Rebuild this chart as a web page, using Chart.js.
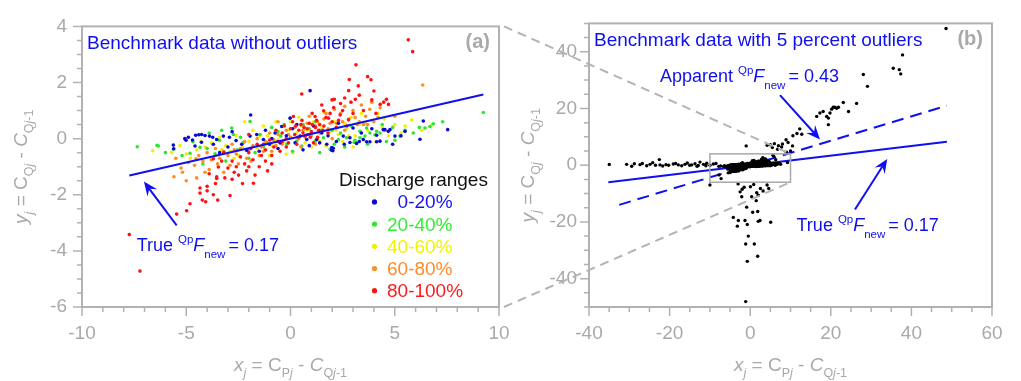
<!DOCTYPE html>
<html>
<head>
<meta charset="utf-8">
<script src="https://cdn.jsdelivr.net/npm/chart.js"></script>
<style>
  html, body { margin: 0; padding: 0; background: #fff; }
  #wrap { position: relative; width: 1021px; height: 381px; overflow: hidden; }
  canvas { position: absolute; top: 0; }
  #chartA { left: 0; }
  #chartB { left: 510px; }
  #overlay { left: 0; pointer-events: none; }
</style>
</head>
<body>
<div id="wrap">
  <canvas id="chartA" width="530" height="381"></canvas>
  <canvas id="chartB" width="511" height="381"></canvas>
  <canvas id="overlay" width="1021" height="381"></canvas>
</div>
<script>
// benchmark residuals, one array per discharge range: [x, y]
const dischargeRanges = ['0-20%', '20-40%', '40-60%', '60-80%', '80-100%'];

const range0to20 = [
  [-5.62,-0.23],[-5.6,-0.36],[-5.07,0.0],[-5.01,-0.06],[-4.58,-0.26],[-4.55,0.12],[-4.4,0.14],[-4.26,0.15],
  [-4.1,0.11],[-3.89,0.09],[-3.73,0.05],[-4.27,-0.13],[-3.54,-0.03],[-3.22,0.09],[-2.93,0.05],[-2.61,-0.07],
  [-2.34,-0.2],[-1.91,0.84],[-1.94,0.09],[-1.62,0.15],[-1.3,-0.03],[-1.01,-0.2],[-0.74,0.2],[-0.42,0.43],
  [-0.02,0.73],[0.22,-0.15],[0.46,0.09],[0.78,-0.03],[0.94,1.71],[1.26,-0.03],[1.5,0.2],[1.74,-0.2],
  [1.98,-0.32],[2.03,-0.43],[2.53,0.09],[2.85,-0.14],[3.17,-0.17],[3.49,-0.03],[3.81,-0.11],[4.13,0.12],
  [4.45,0.32],[4.69,0.26],[5.01,0.09],[4.29,-0.09],[4.53,0.32],[4.77,0.32],[5.49,0.26],[6.21,-0.02],
  [6.37,0.63],[7.54,0.32],[3.65,-0.11],[4.13,-0.11],[3.3,-0.1],[2.58,-0.2],[2.05,-0.34],[1.97,-0.41],
  [2.85,0.03],[-2.1,-0.42],[-3.0,-0.3],[0.1,0.35],[1.1,0.45],[-0.6,-0.35],[3.0,0.38],[-4.9,0.05],
  [-3.4,-0.5],[-1.5,-0.45],[0.6,-0.4],[2.3,0.55],[-0.2,0.1],[1.4,-0.15],
  [-3.7,-0.2],[-2.8,0.25],[-1.2,0.3],[-0.9,0.0],[0.3,0.5],[0.9,-0.25],[1.8,0.1],[2.2,-0.1],
  [3.4,0.2],[3.9,0.35],[4.9,-0.2],[5.3,0.1],[-4.7,-0.05],[-0.5,-0.15],[1.0,0.2]
];
const range20to40 = [
  [-7.35,-0.29],[-6.4,-0.24],[-5.62,-0.38],[-6.34,-0.26],[-4.68,-0.11],[-4.82,-0.52],[-4.34,-0.31],[-3.62,-0.54],
  [-3.41,-0.06],[-2.82,0.38],[-2.74,0.15],[-2.55,-0.4],[-2.26,-0.14],[-1.94,0.61],[-1.46,0.15],[-1.14,-0.14],
  [-0.82,-0.03],[-0.47,0.09],[-0.18,-0.2],[0.3,-0.09],[0.54,-0.26],[0.78,0.15],[1.18,-0.09],[1.58,0.03],
  [1.9,-0.38],[2.3,-0.03],[2.69,0.03],[3.05,-0.14],[3.33,0.26],[3.65,0.38],[4.13,0.26],[4.29,0.2],
  [4.05,0.14],[3.81,0.2],[3.57,0.09],[3.33,0.03],[3.09,-0.06],[5.25,0.09],[5.01,-0.06],[5.89,0.2],
  [6.18,0.4],[6.45,0.38],[6.69,0.43],[6.85,0.53],[9.25,0.93],[-3.9,0.2],[-1.7,-0.5],[-0.9,0.4],
  [0.9,0.35],[2.0,0.3],[2.6,-0.3],[-5.2,-0.6],[4.6,-0.1],[1.4,-0.5],[-0.3,0.5],[-3.1,-0.8],
  [-2.0,-0.7],[0.1,-0.45],[1.2,0.6],[2.4,0.2],[4.9,0.4],[-4.2,-0.9],
  [-6.0,-0.5],[-4.0,-0.35],[-3.3,0.3],[-2.4,0.05],[-1.3,-0.3],[-0.6,0.25],[0.0,0.05],[0.6,0.5],
  [1.4,0.3],[2.1,-0.2],[2.9,0.45],[3.7,-0.2],[4.4,0.5],[5.5,0.3],[7.3,0.6]
];
const range40to60 = [
  [-6.61,-0.43],[-5.0,-0.55],[-5.3,-0.25],[-4.5,-0.4],[-4.1,-0.3],[-3.8,-0.15],[-3.4,0.05],[-3.1,-0.25],
  [-2.9,-0.45],[-2.6,0.1],[-2.3,-0.3],[-2.0,-0.1],[-1.8,0.3],[-1.6,-0.35],[-1.3,0.45],[-1.1,0.1],
  [-0.9,-0.25],[-0.7,0.6],[-0.5,0.1],[-0.3,-0.1],[-0.1,0.3],[0.1,-0.5],[0.3,0.2],[0.5,0.45],
  [0.7,-0.15],[0.9,0.15],[1.1,0.6],[1.3,0.0],[1.5,0.4],[1.7,-0.25],[1.9,0.25],[2.1,0.6],
  [2.3,0.15],[2.5,-0.1],[2.7,0.35],[2.9,0.75],[3.1,0.1],[3.3,0.5],[3.5,-0.05],[3.7,0.3],
  [3.9,0.65],[4.1,-0.1],[4.4,0.4],[4.7,0.1],[5.0,0.5],[5.3,0.2],[5.81,0.67],[6.3,0.3],
  [-4.8,-0.7],[-2.2,0.6],[-0.2,-0.55],[1.0,-0.3],[2.0,-0.35],[3.4,0.9],[4.2,0.9],[-3.6,-0.6],
  [-1.0,-0.6],[0.4,0.75],[1.6,0.95],[2.6,0.55],[-2.7,-0.7],[3.0,-0.3],
  [-5.7,-0.5],[-4.3,-0.1],[-3.3,-0.4],[-2.5,-0.6],[-1.5,0.1],[-0.6,-0.05],[0.0,0.6],[0.8,0.3],
  [1.4,-0.1],[2.2,0.3],[2.8,0.1],[3.6,0.55],[4.5,0.7],[5.5,0.45],[6.8,0.5]
];
const range60to80 = [
  [-5.59,-1.36],[-5.18,-1.2],[-5.25,-1.05],[-4.9,-0.85],[-4.6,-0.95],[-4.4,-0.6],[-4.2,-0.8],[-4.0,-0.5],
  [-3.8,-0.75],[-3.6,-0.35],[-3.4,-0.7],[-3.2,-0.45],[-3.0,-0.6],[-2.8,-0.2],[-2.6,-0.55],[-2.4,-0.35],
  [-2.2,-0.1],[-2.0,-0.4],[-1.8,-0.25],[-1.6,0.0],[-1.4,-0.3],[-1.2,-0.1],[-1.0,0.2],[-0.8,-0.05],
  [-0.6,0.15],[-0.4,-0.2],[-0.2,0.3],[0.0,0.05],[0.2,0.4],[0.4,0.0],[0.6,0.3],[0.8,0.55],
  [1.0,0.1],[1.2,0.45],[1.4,0.2],[1.6,0.7],[1.8,0.35],[2.0,0.0],[2.2,0.55],[2.4,0.9],
  [2.6,0.3],[2.8,0.7],[3.0,1.0],[3.2,0.5],[3.4,1.2],[3.6,0.8],[3.8,1.05],[4.0,0.6],
  [4.2,0.75],[3.3,0.6],[3.7,0.5],[1.7,0.9],[2.1,1.05],[6.34,1.91],[-4.5,-1.4],[-3.9,-1.1],
  [-2.5,-0.9],[-1.5,-0.6],[0.5,-0.3],[-5.5,-0.7],[4.5,0.3],[5.0,0.8],[-0.6,0.6],[1.2,-0.2],
  [-3.2,-1.2],[-4.53,-0.72],[-2.9,-0.95],[-1.9,-0.8],[-0.9,-0.45],[0.9,0.8],[2.6,1.15],[3.9,1.3],
  [-5.0,-1.5],[-4.1,-1.2],[-3.5,-0.9],[-2.7,-0.4],[-2.1,-0.7],[-1.3,-0.45],[-0.7,-0.25],[-0.1,0.15],
  [0.7,0.05],[1.3,0.6],[1.9,0.55],[2.5,0.6],[3.1,0.75],[3.5,0.5],[4.3,1.1]
];
const range80to100 = [
  [-7.73,-3.42],[-7.22,-4.72],[-5.46,-2.69],[-4.98,-2.57],[-4.82,-2.32],[-4.23,-2.19],[-4.07,-2.25],[-3.49,-2.19],
  [-2.9,-2.03],[-1.78,-1.59],[-4.34,-1.94],[-4.0,-1.86],[-3.7,-2.0],[-3.54,-1.42],[-3.15,-1.4],[-2.7,-1.2],
  [-2.49,-1.3],[-3.7,-0.72],[-3.46,-1.01],[-4.34,-1.76],[-4.0,-1.7],[-3.54,-1.36],
  [5.65,3.52],[5.86,3.1],[3.14,2.63],[2.82,2.11],[3.7,2.21],[3.86,2.1],[3.25,1.88],[0.54,1.59],
  [2.79,1.71],[3.11,1.4],[1.99,1.38],[3.9,1.38],[4.47,1.3],[4.6,1.4],[4.3,1.22],[4.7,1.22],
  [2.07,1.11],[1.59,0.99],[1.04,0.9],[0.14,0.79],[1.18,0.79],[1.82,0.73],[2.38,0.84],[2.78,0.67],
  [0.4,0.3],[0.6,0.2],[0.8,0.35],[1.0,0.25],[1.2,0.4],[0.5,0.5],[0.9,0.55],[1.4,0.5],
  [0.7,0.1],[1.6,0.45],[2.0,0.6],[2.2,0.4],[1.8,0.2],[0.2,0.15],[0.0,0.35],[-0.2,0.0],
  [-0.4,0.2],[-0.6,-0.1],[-0.8,-0.3],[-1.0,-0.05],[-0.2,-0.3],[-0.5,-0.45],[-1.2,-0.4],[-1.4,-0.6],
  [-1.6,-0.2],[-1.8,-0.75],[-2.0,-0.5],[-2.2,-0.9],[-2.4,-0.65],[-2.6,-1.0],[-2.8,-0.8],[-3.0,-1.05],
  [-1.5,-1.0],[-1.2,-0.8],[-2.1,-1.15],[-0.9,-0.6],[-1.7,-1.3],[0.3,-0.2],[1.3,0.05],[2.5,1.0],
  [3.5,1.0],[4.1,0.9],[2.9,1.3],[1.7,0.75],[-3.3,-0.8],[-2.3,-1.6],[-1.1,-1.15],[0.1,0.6],
  [-0.3,0.45],[1.5,1.2],[2.6,1.45],[3.0,0.9],[-3.9,-1.25],[-3.2,-0.5],[-2.0,0.15],[-0.7,0.3],
  [1.1,-0.15],[0.65,0.4],[0.85,0.15],[1.05,0.5],[0.35,0.05],[1.35,0.3],[-0.1,-0.15],[2.4,1.25],
  [-3.6,-1.6],[-2.8,-1.45],[-2.0,-1.0],[-1.3,-0.2],[-0.4,-0.1],[0.25,0.45],[0.55,0.65],[0.95,0.05],
  [1.25,0.65],[1.55,0.3],[1.9,0.9],[2.3,0.65],[2.7,0.45],[3.3,1.55],[4.0,1.7],[-0.9,-0.9],
  [-1.9,-0.35],[2.1,1.4]
];

// extra points that appear only in the contaminated set
const outlierPoints = [
  [-34.96,0.24],[-30.65,0.3],[-29.4,-0.35],[-28.75,0.5],[-27.34,0.2],[-26.77,0.6],[-25.68,-0.2],[-24.86,0.3],
  [-24.2,0.9],[-22.55,1.97],[-22.38,0.1],[-21.72,-0.3],[-20.9,0.2],[-20.23,0.0],[-19.08,0.4],[-17.84,0.1],
  [-17.0,-0.2],[-16.18,0.3],[-15.6,0.8],[-14.52,0.1],[-13.7,0.5],[-12.88,-0.1],[-12.46,1.1],[-11.6,0.3],
  [-10.79,0.7],[-9.97,0.0],[-9.15,0.4],[-8.5,0.6],[-7.8,-0.4],[-15.0,0.0],[-18.5,0.6],[-23.5,0.0],
  [-13.2,-0.4],[-11.0,-0.2],[-10.0,-7.0],
  [-1.0,6.8],[4.2,7.0],[5.0,7.2],[5.5,6.2],[6.0,7.6],[6.8,5.6],[7.0,6.9],[7.8,6.4],
  [8.0,7.5],[8.9,9.0],[9.4,8.0],[9.0,4.6],[10.0,5.0],[10.5,6.8],[10.6,10.4],[11.6,11.2],
  [12.3,12.8],[12.8,10.9],[16.5,17.2],[17.3,18.4],[18.1,18.95],[18.97,17.2],[19.4,16.6],[19.8,18.4],
  [20.2,19.76],[20.6,20.45],[21.0,20.45],[21.45,20.1],[21.9,20.45],[19.4,14.3],[23.1,22.1],[24.4,18.95],
  [26.4,21.8],[28.07,32.0],[29.1,27.8],[35.5,34.2],[37.0,33.7],[37.35,32.2],[37.8,38.9],[48.6,48.2],
  [0.05,-7.6],[0.87,-6.8],[2.53,-8.2],[3.2,-9.1],[4.19,-7.0],[4.6,-8.2],[-2.5,-9.4],[0.37,-11.1],
  [-2.1,-11.1],[1.62,-9.7],[-0.87,-14.8],[0.62,-16.6],[1.86,-16.3],[-4.19,-18.4],[-2.94,-19.5],[-3.19,-21.5],
  [-1.29,-19.5],[-0.72,-20.9],[2.0,-19.8],[2.43,-19.5],[5.08,-20.1],[-0.47,-25.0],[-1.12,-27.8],[1.02,-27.8],
  [1.86,-32.1],[-0.72,-33.9],[-1.12,-48.1],[-1.5,-7.8],[-3.0,-6.6],[1.5,-12.5],[-2.0,-8.5],[2.0,-10.6]
];

// fitted slopes and the x extent of each fitted line
const trueSlope = 0.17;
const apparentSlope = 0.43;
const trueLineXA = [-7.73, 9.25];
const trueLineXB = [-35.2, 48.8];
const apparentLineXB = [-32.5, 48.8];

// axes
const xRangeA = [-10, 10], yRangeA = [-6, 4];
const xRangeB = [-40, 60], yRangeB = [-50, 50];
const xTicksA = [-10, -5, 0, 5, 10];
const yTicksA = [-6, -4, -2, 0, 2, 4];
const xTicksB = [-40, -20, 0, 20, 40, 60];
const yTicksB = [-40, -20, 0, 20, 40];

const pointColors = ['#0a0ad2', '#2fe62f', '#f0f000', '#ff8c1f', '#ff1212'];
const textColors = ['#1414f0', '#30ee30', '#f2f200', '#ff8c26', '#ff1a1a'];
const BLUE = '#1010ee';
const GRAY = '#b2b2b2';
const LABEL_GRAY = '#a9a9a9';
const FONT = '"Liberation Sans", Arial, Helvetica, sans-serif';

const toXY = arr => arr.map(p => ({ x: p[0], y: p[1] }));
const lineFrom = (xs, slope) => xs.map(x => ({ x, y: slope * x }));

// text with sub/superscripts, parts laid out left to right
function richWidth(ctx, parts) {
  let w = 0;
  parts.forEach(p => {
    ctx.font = (p.i ? 'italic ' : '') + p.s + 'px ' + FONT;
    w += ctx.measureText(p.t).width + (p.dx || 0);
  });
  return w;
}
function drawRich(ctx, x, y, parts, color) {
  ctx.fillStyle = color;
  ctx.textAlign = 'left';
  ctx.textBaseline = 'alphabetic';
  parts.forEach(p => {
    ctx.font = (p.i ? 'italic ' : '') + p.s + 'px ' + FONT;
    x += p.dx || 0;
    ctx.fillText(p.t, x, y + (p.dy || 0));
    x += ctx.measureText(p.t).width;
  });
}

function arrow(ctx, x0, y0, x1, y1) {
  const a = Math.atan2(y1 - y0, x1 - x0), c = Math.cos(a), s = Math.sin(a);
  const L = 14, W = 6, notch = 9;
  ctx.save();
  ctx.strokeStyle = BLUE;
  ctx.fillStyle = BLUE;
  ctx.lineWidth = 2;
  ctx.beginPath();
  ctx.moveTo(x0, y0);
  ctx.lineTo(x1 - c * notch, y1 - s * notch);
  ctx.stroke();
  ctx.beginPath();
  ctx.moveTo(x1, y1);
  ctx.lineTo(x1 - c * L - s * W, y1 - s * L + c * W);
  ctx.lineTo(x1 - c * notch, y1 - s * notch);
  ctx.lineTo(x1 - c * L + s * W, y1 - s * L - c * W);
  ctx.closePath();
  ctx.fill();
  ctx.restore();
}

const axisTitleParts = first => [
  { t: first, i: 1, s: 19 }, { t: 'j', i: 1, s: 12.5, dy: 6 },
  { t: ' = C', s: 19 }, { t: first === 'x' ? 'P' : 'Q', s: 12.5, dy: 6 }, { t: 'j', i: 1, s: 12.5, dy: 6 },
  { t: ' - ', s: 19 }, { t: 'C', i: 1, s: 19 }, { t: 'Q', s: 12.5, dy: 6 }, { t: 'j', i: 1, s: 12.5, dy: 6 },
  { t: '-1', s: 12.5, dy: 6 }
];
const fParts = (lead, val) => [
  { t: lead + ' ', s: 18 }, { t: 'Qp', s: 11.5, dy: -8 }, { t: 'F', i: 1, s: 18 },
  { t: 'new', s: 11.5, dy: 7 }, { t: '= ' + val, s: 18, dx: 3 }
];

// frame, outward major/minor ticks and axis titles
const frame = {
  id: 'frame',
  afterDraw(chart) {
    const { ctx, chartArea: ca, scales } = chart;
    ctx.save();
    ctx.strokeStyle = GRAY;
    ctx.lineWidth = 2;
    ctx.strokeRect(ca.left, ca.top, ca.right - ca.left, ca.bottom - ca.top);
    ctx.lineWidth = 1.5;
    ctx.beginPath();
    scales.x.ticks.forEach(t => {
      const px = scales.x.getPixelForValue(t.value);
      ctx.moveTo(px, ca.bottom);
      ctx.lineTo(px, ca.bottom + (t.label !== '' ? 9 : 5));
    });
    scales.y.ticks.forEach(t => {
      const py = scales.y.getPixelForValue(t.value);
      ctx.moveTo(ca.left, py);
      ctx.lineTo(ca.left - (t.label !== '' ? 9 : 5), py);
    });
    ctx.stroke();

    const xp = axisTitleParts('x');
    const xw = richWidth(ctx, xp);
    drawRich(ctx, (ca.left + ca.right) / 2 - xw / 2, 371, xp, LABEL_GRAY);
    const yp = axisTitleParts('y');
    const yw = richWidth(ctx, yp);
    ctx.translate(ca.left - 55, (ca.top + ca.bottom) / 2);
    ctx.rotate(-Math.PI / 2);
    drawRich(ctx, -yw / 2, 0, yp, LABEL_GRAY);
    ctx.restore();
  }
};

function panelText(ctx, ca, title, tag) {
  ctx.font = '19px ' + FONT;
  ctx.fillStyle = BLUE;
  ctx.textAlign = 'left';
  ctx.textBaseline = 'alphabetic';
  ctx.fillText(title, ca.left + 5, ca.top + 22.5);
  ctx.font = 'bold 20px ' + FONT;
  ctx.fillStyle = LABEL_GRAY;
  ctx.textAlign = 'right';
  ctx.fillText(tag, ca.right - 9, ca.top + 22);
}

const notesA = {
  id: 'notesA',
  afterDraw(chart) {
    const { ctx, chartArea: ca, scales: { x, y } } = chart;
    ctx.save();
    panelText(ctx, ca, 'Benchmark data without outliers', '(a)');
    arrow(ctx, x.getPixelForValue(-5.46), y.getPixelForValue(-3.09), x.getPixelForValue(-7.03), y.getPixelForValue(-1.53));
    drawRich(ctx, x.getPixelForValue(-7.38), y.getPixelForValue(-4.0), fParts('True', trueSlope.toFixed(2)), BLUE);

    // legend
    ctx.font = '19px ' + FONT;
    ctx.fillStyle = '#111';
    ctx.textAlign = 'left';
    ctx.fillText('Discharge ranges', ca.left + 257, ca.top + 160);
    dischargeRanges.forEach((r, i) => {
      const by = ca.top + 182 + i * 22.2;
      ctx.fillStyle = pointColors[i];
      ctx.beginPath();
      ctx.arc(ca.left + 292.5, by - 6.5, 2.6, 0, Math.PI * 2);
      ctx.fill();
      ctx.fillStyle = textColors[i];
      ctx.fillText(r, ca.left + 305 + (i === 0 ? 10.6 : 0), by);
    });
    ctx.restore();
  }
};

const notesB = {
  id: 'notesB',
  afterDraw(chart) {
    const { ctx, chartArea: ca, scales: { x, y } } = chart;
    ctx.save();
    panelText(ctx, ca, 'Benchmark data with 5 percent outliers', '(b)');
    // zoom window showing the extent of panel (a)
    ctx.strokeStyle = '#a8a8a8';
    ctx.lineWidth = 1.5;
    const rx = x.getPixelForValue(xRangeA[0]), ry = y.getPixelForValue(yRangeA[1]);
    ctx.strokeRect(rx, ry, x.getPixelForValue(xRangeA[1]) - rx, y.getPixelForValue(yRangeA[0]) - ry);
    arrow(ctx, x.getPixelForValue(7.39), y.getPixelForValue(24.7), x.getPixelForValue(17.32), y.getPixelForValue(9.1));
    arrow(ctx, x.getPixelForValue(26.0), y.getPixelForValue(-15.6), x.getPixelForValue(34.0), y.getPixelForValue(2.2));
    drawRich(ctx, x.getPixelForValue(-22.4), y.getPixelForValue(29.5), fParts('Apparent', apparentSlope.toFixed(2)), BLUE);
    drawRich(ctx, x.getPixelForValue(11.5), y.getPixelForValue(-23.2), fParts('True', trueSlope.toFixed(2)), BLUE);
    ctx.restore();
  }
};

function near(v, list) { return list.some(t => Math.abs(t - v) < 1e-6); }

function axes(xr, yr, xStep, yStep, xLabels, yLabels, yWidth, yPad) {
  const tickFont = { family: FONT, size: 19 };
  return {
    x: {
      type: 'linear', min: xr[0], max: xr[1],
      grid: { display: false, drawTicks: false }, border: { display: false },
      ticks: { stepSize: xStep, autoSkip: false, maxRotation: 0, maxTicksLimit: 200, padding: 15,
        color: LABEL_GRAY, font: tickFont, callback: v => near(v, xLabels) ? String(v) : '' },
      afterFit: s => { s.height = 74; }
    },
    y: {
      type: 'linear', min: yr[0], max: yr[1],
      grid: { display: false, drawTicks: false }, border: { display: false },
      ticks: { stepSize: yStep, autoSkip: false, maxTicksLimit: 200, padding: yPad,
        color: LABEL_GRAY, font: tickFont, callback: v => near(v, yLabels) ? String(v) : '' },
      afterFit: s => { s.width = yWidth; }
    }
  };
}

const common = {
  responsive: false,
  animation: false,
  devicePixelRatio: 1,
  events: [],
  plugins: { legend: { display: false }, tooltip: { enabled: false } }
};

const scatterSet = (data, color, r) => ({
  data: toXY(data), backgroundColor: color, borderWidth: 0, pointRadius: r, showLine: false
});

const chartA = new Chart(document.getElementById('chartA'), {
  type: 'scatter',
  data: {
    datasets: [
      { data: lineFrom(trueLineXA, trueSlope), showLine: true, borderColor: BLUE, borderWidth: 2, pointRadius: 0 },
      scatterSet(range80to100, pointColors[4], 1.8),
      scatterSet(range0to20, pointColors[0], 1.8),
      scatterSet(range60to80, pointColors[3], 1.8),
      scatterSet(range20to40, pointColors[1], 1.8),
      scatterSet(range40to60, pointColors[2], 1.8)
    ]
  },
  options: Object.assign({}, common, {
    layout: { padding: { top: 19, right: 31, left: 0, bottom: 0 } },
    scales: axes(xRangeA, yRangeA, 1, 0.5, xTicksA, yTicksA, 82, 15)
  }),
  plugins: [frame, notesA]
});

const allPointsB = [].concat(range0to20, range20to40, range40to60, range60to80, range80to100, outlierPoints);

// in panel (b) the points sit on top of both fitted lines
const chartB = new Chart(document.getElementById('chartB'), {
  type: 'scatter',
  data: {
    datasets: [
      scatterSet(allPointsB, '#000', 1.7),
      { data: lineFrom(trueLineXB, trueSlope), showLine: true, borderColor: BLUE, borderWidth: 2, pointRadius: 0 },
      { data: lineFrom(apparentLineXB, apparentSlope), showLine: true, borderColor: BLUE, borderWidth: 2,
        borderDash: [12, 7], pointRadius: 0 }
    ]
  },
  options: Object.assign({}, common, {
    layout: { padding: { top: 19, right: 29, left: 0, bottom: 0 } },
    scales: axes(xRangeB, yRangeB, 5, 5, xTicksB, yTicksB, 79, 12)
  }),
  plugins: [frame, notesB]
});

// dashed guides from the corners of panel (a) to the zoom window in panel (b)
(function drawGuides() {
  const ctx = document.getElementById('overlay').getContext('2d');
  const offB = document.getElementById('chartB').offsetLeft;
  const sa = chartA.scales, sb = chartB.scales;
  ctx.strokeStyle = '#b4b4b4';
  ctx.lineWidth = 2;
  ctx.setLineDash([9, 6]);
  [yRangeA[1], yRangeA[0]].forEach(yv => {
    ctx.beginPath();
    ctx.moveTo(sa.x.getPixelForValue(xRangeA[1]) + 5, sa.y.getPixelForValue(yv));
    ctx.lineTo(offB + sb.x.getPixelForValue(xRangeA[1]), sb.y.getPixelForValue(yv));
    ctx.stroke();
  });
})();
</script>
</body>
</html>
